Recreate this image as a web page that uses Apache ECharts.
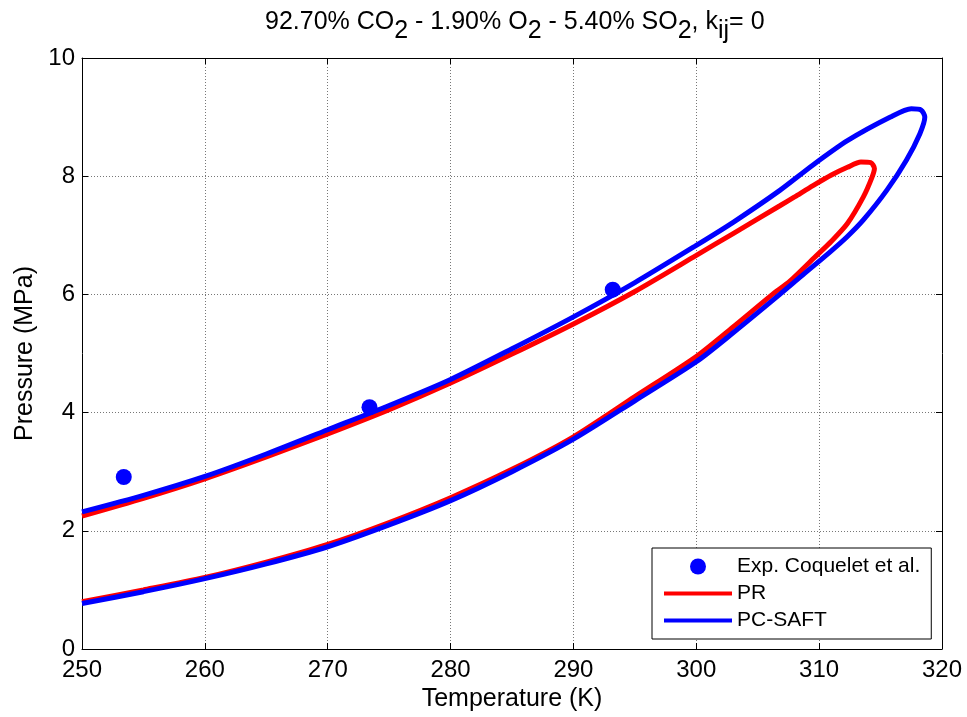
<!DOCTYPE html>
<html>
<head>
<meta charset="utf-8">
<script src="https://cdn.jsdelivr.net/npm/echarts@6/dist/echarts.min.js"></script>
<style>
  html, body { margin: 0; padding: 0; background: #fff; }
  #chart { width: 967px; height: 717px; }
</style>
</head>
<body>
<div id="chart"></div>
<script>
  // PR envelope, dew branch up to the nose then back down the bubble branch
  var prT = [250, 255, 260, 265, 270, 275, 280, 285, 290, 295, 300, 303, 306.2, 307.6, 309.6, 311, 312.3, 313.6, 314.3, 314.5, 314.2, 313.4, 312.3, 311, 309.5, 308, 306.8, 303, 300, 295, 290, 285, 280, 275, 270, 265, 260, 255, 250]
  var prP = [0.80, 1.0, 1.21, 1.47, 1.77, 2.14, 2.56, 3.04, 3.59, 4.27, 4.95, 5.45, 6.0, 6.22, 6.62, 6.9, 7.2, 7.65, 7.98, 8.13, 8.23, 8.24, 8.15, 8.02, 7.84, 7.65, 7.5, 7.03, 6.66, 6.05, 5.5, 4.99, 4.50, 4.05, 3.64, 3.25, 2.88, 2.55, 2.25]
  // PC-SAFT envelope, same order
  var saftT = [250, 255, 260, 265, 270, 275, 280, 285, 290, 295, 300, 303, 306.8, 308.5, 310.9, 312.3, 313.6, 315.5, 317.1, 318.2, 318.6, 318.3, 317.5, 315.8, 312.3, 309.5, 306.8, 303, 300, 295, 290, 285, 280, 275, 270, 265, 260, 255, 250]
  var saftP = [0.77, 0.97, 1.19, 1.44, 1.73, 2.1, 2.51, 3.0, 3.55, 4.2, 4.86, 5.35, 6.0, 6.3, 6.72, 6.98, 7.26, 7.76, 8.27, 8.72, 9.0, 9.12, 9.14, 9.0, 8.6, 8.19, 7.76, 7.22, 6.83, 6.2, 5.62, 5.08, 4.56, 4.12, 3.71, 3.3, 2.92, 2.6, 2.32]
  // experimental points
  var expT = [253.4, 273.4, 293.2]
  var expP = [2.91, 4.09, 6.08]

  var xTicks = {min: 250, max: 320, step: 10}
  var yTicks = {min: 0, max: 10, step: 2}

  function pairs(xs, ys) {
    var out = []
    for (var i = 0; i < xs.length; i++) out.push([xs[i], ys[i]])
    return out
  }

  var font = 'Liberation Sans, Arial, Helvetica, sans-serif'
  var gridLine = {show: true, lineStyle: {color: '#777', type: [1, 2], width: 1}}
  var frame = {show: true, onZero: false, lineStyle: {color: '#000', width: 1}}
  var ticksIn = {show: true, inside: true, length: 6, lineStyle: {color: '#000'}}
  var lineIcon = 'path://M0,0 L68,0 L68,4 L0,4 Z'

  var chart = echarts.init(document.getElementById('chart'))
  chart.setOption({
    animation: false,
    backgroundColor: '#fff',
    title: {
      text: '{n|92.70% CO}{s|2}{n| - 1.90% O}{s|2}{n| - 5.40% SO}{s|2}{n|, k}{s|ij}{n|= 0}',
      left: 260,
      top: 5,
      textStyle: {
        rich: {
          n: {fontFamily: font, fontSize: 25, fontWeight: 'normal', color: '#000', lineHeight: 26, verticalAlign: 'top'},
          s: {fontFamily: font, fontSize: 25, fontWeight: 'normal', color: '#000', lineHeight: 26, verticalAlign: 'top', padding: [9, 0, 0, 0]}
        }
      }
    },
    legend: {
      orient: 'vertical',
      left: 652,
      top: 548,
      padding: [8, 11, 8, 12],
      itemWidth: 68,
      itemHeight: 16,
      itemGap: 6,
      borderColor: '#000',
      borderWidth: 1,
      backgroundColor: '#fff',
      textStyle: {fontFamily: font, fontSize: 21, color: '#000'},
      data: [
        {name: 'Exp. Coquelet et al.', icon: 'circle'},
        {name: 'PR', icon: lineIcon},
        {name: 'PC-SAFT', icon: lineIcon}
      ]
    },
    grid: {left: 82, right: 25, top: 58, bottom: 68},
    xAxis: [{
      type: 'value', min: xTicks.min, max: xTicks.max, interval: xTicks.step,
      name: 'Temperature (K)', nameLocation: 'middle', nameGap: 38,
      nameTextStyle: {fontFamily: font, fontSize: 25, color: '#000'},
      axisLine: frame, axisTick: ticksIn, splitLine: gridLine,
      axisLabel: {fontFamily: font, fontSize: 24, color: '#000', margin: 9}
    }, {
      type: 'value', position: 'top', min: xTicks.min, max: xTicks.max, interval: xTicks.step,
      axisLine: frame, axisTick: ticksIn, splitLine: {show: false}, axisLabel: {show: false}
    }],
    yAxis: [{
      type: 'value', min: yTicks.min, max: yTicks.max, interval: yTicks.step,
      name: 'Pressure (MPa)', nameLocation: 'middle', nameGap: 40,
      nameTextStyle: {fontFamily: font, fontSize: 25, color: '#000'},
      axisLine: frame, axisTick: ticksIn, splitLine: gridLine,
      axisLabel: {fontFamily: font, fontSize: 24, color: '#000', margin: 7}
    }, {
      type: 'value', position: 'right', min: yTicks.min, max: yTicks.max, interval: yTicks.step,
      axisLine: frame, axisTick: ticksIn, splitLine: {show: false}, axisLabel: {show: false}
    }],
    series: [{
      name: 'PR',
      type: 'line',
      data: pairs(prT, prP),
      symbol: 'none',
      smooth: 0.25,
      color: '#ff0000',
      itemStyle: {color: '#ff0000'},
      lineStyle: {color: '#ff0000', width: 5},
      z: 2
    }, {
      name: 'PC-SAFT',
      type: 'line',
      data: pairs(saftT, saftP),
      symbol: 'none',
      smooth: 0.25,
      color: '#0000ff',
      itemStyle: {color: '#0000ff'},
      lineStyle: {color: '#0000ff', width: 5},
      z: 3
    }, {
      name: 'Exp. Coquelet et al.',
      type: 'scatter',
      data: pairs(expT, expP),
      symbol: 'circle',
      symbolSize: 16,
      itemStyle: {color: '#0000ff', opacity: 1},
      z: 4
    }]
  })
</script>
</body>
</html>
